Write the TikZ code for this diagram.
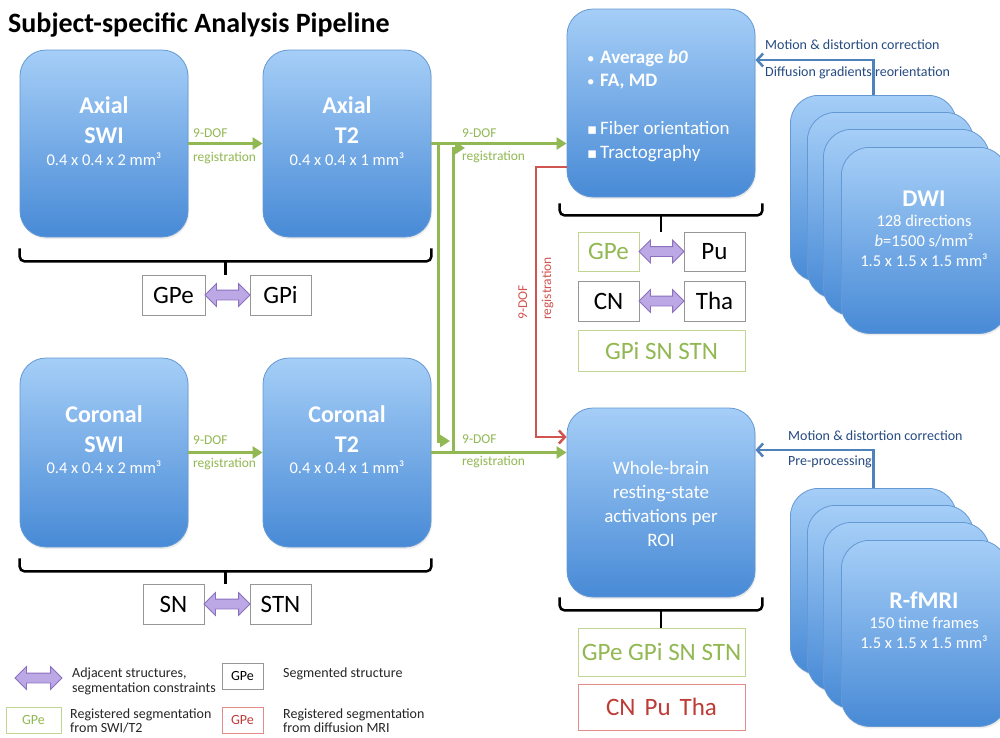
\documentclass[tikz,border=0pt]{standalone}
\usepackage{fontspec}
\setmainfont{Carlito}
\newfontfamily\dejavu{DejaVu Sans}
\usetikzlibrary{arrows.meta,shapes.arrows,calc,shadows}

\definecolor{gr}{RGB}{146,184,83}
\definecolor{grbox}{RGB}{192,213,145}
\definecolor{rd}{RGB}{208,84,80}
\definecolor{rdtext}{RGB}{190,60,55}
\definecolor{rdbox}{RGB}{226,140,138}
\definecolor{bl}{RGB}{79,129,189}
\definecolor{bltext}{RGB}{38,75,130}
\definecolor{boxtop}{RGB}{165,206,247}
\definecolor{boxbot}{RGB}{72,138,214}
\definecolor{boxedge}{RGB}{100,153,212}
\definecolor{lav}{RGB}{188,168,228}
\definecolor{lavedge}{RGB}{140,112,192}
\definecolor{grayedge}{RGB}{150,150,150}

\begin{document}
\begin{tikzpicture}[x=1pt,y=-1pt,
  bluebox/.style={draw=boxedge, line width=0.8pt, rounded corners=26pt,
    top color=boxtop, bottom color=boxbot,
    drop shadow={shadow xshift=1pt, shadow yshift=-2pt, opacity=0.15},
    minimum width=#1, minimum height=188pt, inner sep=0pt},
  stackbox/.style={bluebox=166pt, minimum height=186pt, anchor=north west, rounded corners=28pt},
  btxt/.style={text=white, anchor=base, inner sep=0pt},
  bigb/.style={font=\bfseries\fontsize{24}{28}\selectfont},
  dims/.style={font=\fontsize{16.5}{19}\selectfont},
  wtxt/.style={font=\fontsize{19}{22}\selectfont},
  sbox/.style={draw=grayedge, line width=0.8pt, minimum width=#1, minimum height=40pt,
    inner sep=0pt, font=\fontsize{25}{29}\selectfont},
  gbox/.style={sbox=#1, draw=grbox, text=gr},
  rbox/.style={sbox=#1, draw=rdbox, text=rdtext},
  dblarrow/.style={double arrow, draw=lavedge, fill=lav, line width=0.8pt,
    inner xsep=0pt, inner ysep=4.5pt, text height=0pt, text depth=0pt, text width=0pt,
    double arrow head extend=6.5pt, minimum height=#1},
  gline/.style={draw=gr, line width=3pt},
  garrow/.style={gline, -{Triangle[length=10pt,width=12pt]}},
  rarrow/.style={draw=rd, line width=2.5pt, -{Straight Barb[length=6pt,width=13pt]}},
  barrow/.style={draw=bl, line width=2.5pt, -{Straight Barb[length=6pt,width=13pt]}},
  glab/.style={text=gr, font=\fontsize{13.5}{15}\selectfont, anchor=base west, inner sep=0pt},
  blab/.style={text=bltext, font=\fontsize{14}{16}\selectfont, anchor=base west, inner sep=0pt},
  legtxt/.style={text=black!85, font=\fontsize{14}{16}\selectfont, anchor=base west, inner sep=0pt},
  brace/.style={draw=black, line width=2.5pt, rounded corners=5pt},
]
\useasboundingbox (0,0) rectangle (1000,737);
\fill[white] (0,0) rectangle (1000,737);
\clip (0,0) rectangle (1000,737);

% title
\node[anchor=base west, inner sep=0pt, font=\bfseries\fontsize{28}{32}\selectfont] (title) at (8,32) {Subject-specific Analysis Pipeline};

% main boxes
\node[bluebox=168pt, minimum height=187pt] (swia) at (104,143.5) {};
\node[bluebox=168pt, minimum height=187pt] (t2a) at (347,143.5) {};
\node[bluebox=168pt, minimum height=189pt] (swic) at (104,452.5) {};
\node[bluebox=168pt, minimum height=189pt] (t2c) at (347,452.5) {};
\node[bluebox=188pt] (b0) at (661,103) {};
\node[bluebox=188pt, minimum height=189pt] (wb) at (661,502.5) {};

% stacks
\node[stackbox] (dwi1) at (790,95) {};
\node[stackbox] (dwi2) at (807,112) {};
\node[stackbox] (dwi3) at (823,129) {};
\node[stackbox] (dwi4) at (841,147) {};
\node[stackbox] (rf1) at (790,488) {};
\node[stackbox] (rf2) at (807,505) {};
\node[stackbox] (rf3) at (823,522) {};
\node[stackbox] (rf4) at (841,540) {};

% box texts
\node[btxt, bigb] (swia1) at (104,113) {Axial};
\node[btxt, bigb] (swia2) at (104,143) {SWI};
\node[btxt, dims] (swia3) at (104,165) {0.4 x 0.4 x 2 mm³};
\node[btxt, bigb] (t2a1) at (347,113) {Axial};
\node[btxt, bigb] (t2a2) at (347,143) {T2};
\node[btxt, dims] (t2a3) at (347,165) {0.4 x 0.4 x 1 mm³};
\node[btxt, bigb] (swic1) at (104,422) {Coronal};
\node[btxt, bigb] (swic2) at (104,452) {SWI};
\node[btxt, dims] (swic3) at (104,473) {0.4 x 0.4 x 2 mm³};
\node[btxt, bigb] (t2c1) at (347,422) {Coronal};
\node[btxt, bigb] (t2c2) at (347,452) {T2};
\node[btxt, dims] (t2c3) at (347,473) {0.4 x 0.4 x 1 mm³};

\node[btxt, anchor=base west, font=\bfseries\fontsize{19}{22}\selectfont] (b01) at (587,63) {\makebox[13pt][l]{\mdseries\fontsize{15}{16}\selectfont •}Average \textit{b0}};
\node[btxt, anchor=base west, font=\bfseries\fontsize{19}{22}\selectfont] (b02) at (587,86) {\makebox[13pt][l]{\mdseries\fontsize{15}{16}\selectfont •}FA, MD};
\node[btxt, anchor=base west, wtxt] (b03) at (587,134) {\makebox[13pt][l]{\dejavu\fontsize{15}{16}\selectfont ▪}Fiber orientation};
\node[btxt, anchor=base west, wtxt] (b04) at (587,158) {\makebox[13pt][l]{\dejavu\fontsize{15}{16}\selectfont ▪}Tractography};

\node[btxt, wtxt] (wb1) at (661,474) {Whole-brain};
\node[btxt, wtxt] (wb2) at (661,498) {resting-state};
\node[btxt, wtxt] (wb3) at (661,522) {activations per};
\node[btxt, wtxt] (wb4) at (661,546) {ROI};

\node[btxt, bigb] (dwit1) at (924,206) {DWI};
\node[btxt, dims] (dwit2) at (924,226) {128 directions};
\node[btxt, dims] (dwit3) at (924,246) {\textit{b}=1500 s/mm²};
\node[btxt, dims] (dwit4) at (924,266) {1.5 x 1.5 x 1.5 mm³};
\node[btxt, bigb] (rft1) at (924,608) {R-fMRI};
\node[btxt, dims] (rft2) at (924,628) {150 time frames};
\node[btxt, dims] (rft3) at (924,648) {1.5 x 1.5 x 1.5 mm³};

% structure boxes
\node[sbox=63pt] (gpe1) at (173.5,295) {GPe};
\node[sbox=61pt] (gpi1) at (280.5,295) {GPi};
\node[sbox=61pt] (sn1) at (173.5,604) {SN};
\node[sbox=61pt] (stn1) at (280.5,604) {STN};
\node[gbox=61pt, minimum height=39pt] (gpe2) at (608.5,251.5) {GPe};
\node[sbox=61pt, minimum height=39pt] (pu2) at (714.5,251.5) {Pu};
\node[sbox=61pt] (cn2) at (608.5,301) {CN};
\node[sbox=61pt] (tha2) at (714.5,301) {Tha};
\node[gbox=167pt, minimum height=41pt] (grp2) at (661.5,350.5) {GPi SN STN};
\node[gbox=167pt, minimum height=48pt] (grp3) at (661.5,652) {GPe GPi SN STN};
\node[rbox=167pt, minimum height=46pt] (red3) at (661.5,707) {CN\hspace{9pt}Pu\hspace{9pt}Tha};

% adjacency arrows
\node[dblarrow=45pt] (adj1) at ($(gpe1.east)!0.5!(gpi1.west)$) {};
\node[dblarrow=46pt] (adj2) at ($(sn1.east)!0.5!(stn1.west)$) {};
\node[dblarrow=45pt] (adj3) at ($(gpe2.east)!0.5!(pu2.west)$) {};
\node[dblarrow=45pt] (adj4) at ($(cn2.east)!0.5!(tha2.west)$) {};

% braces
\coordinate (bA1) at ($(swia.south west)+(0,11)$);
\coordinate (bA2) at ($(t2a.south east)+(0,11)$);
\coordinate (bAm) at ($(bA1)!0.5!(bA2)+(0,13)$);
\draw[brace] (bA1) |- (bAm) -| (bA2);
\draw[brace] (bAm) -- (bAm |- gpe1.north);
\coordinate (bC1) at ($(swic.south west)+(0,11)$);
\coordinate (bC2) at ($(t2c.south east)+(0,11)$);
\coordinate (bCm) at ($(bC1)!0.5!(bC2)+(0,13)$);
\draw[brace] (bC1) |- (bCm) -| (bC2);
\draw[brace] (bCm) -- (bCm |- sn1.north);
\coordinate (bB1) at ($(b0.south west)+(-7,6)$);
\coordinate (bB2) at ($(b0.south east)+(7,6)$);
\coordinate (bBm) at ($(bB1)!0.5!(bB2)+(0,12)$);
\draw[brace] (bB1) |- (bBm) -| (bB2);
\draw[brace] (bBm) -- (bBm |- gpe2.north);
\coordinate (bW1) at ($(wb.south west)+(-7,0)$);
\coordinate (bW2) at ($(wb.south east)+(7,0)$);
\coordinate (bWm) at ($(bW1)!0.5!(bW2)+(0,13)$);
\draw[brace] (bW1) |- (bWm) -| (bW2);
\draw[brace] (bWm) -- (bWm |- grp3.north);

% green registration connectors
\draw[garrow] (swia.east) -- (t2a.west);
\draw[garrow] (swic.east) -- (t2c.west);
\draw[garrow] (t2a.east) -- (t2a.east -| b0.west);
\draw[garrow] (t2c.east) -- (t2c.east -| wb.west);
\coordinate (ja) at (438,0);
\coordinate (jaEnd) at (450,441);
\draw[garrow] (ja |- t2a.east) |- (jaEnd);
\coordinate (jc) at (453,0);
\coordinate (jcEnd) at (465,148);
\draw[garrow] (jc |- t2c.east) |- (jcEnd);

% red connector
\coordinate (ry) at (0,167);
\coordinate (rc) at (536,437);
\draw[rarrow] (b0.west |- ry) -| (rc) -- (rc -| wb.west);

% blue connectors
\coordinate (bd) at (0,60);
\draw[barrow] (dwi1.north) -- (dwi1.north |- bd) -- (bd -| b0.east);
\coordinate (br) at (0,450);
\draw[barrow] (rf1.north) -- (rf1.north |- br) -- (br -| wb.east);

% connector labels
\node[glab] (l1) at (193,137) {9-DOF};
\node[glab] (l2) at (193,161) {registration};
\node[glab] (l3) at (193,444) {9-DOF};
\node[glab] (l4) at (193,467) {registration};
\node[glab] (l5) at (462,137) {9-DOF};
\node[glab] (l6) at (462,160) {registration};
\node[glab] (l7) at (462,443) {9-DOF};
\node[glab] (l8) at (462,465) {registration};
\node[glab, text=rd, rotate=90] (l9) at (527,320) {9-DOF};
\node[glab, text=rd, rotate=90] (l10) at (551,320) {registration};
\node[blab] (l11) at (765,49.5) {Motion \& distortion correction};
\node[blab] (l12) at (765,76) {Diffusion gradients reorientation};
\node[blab] (l13) at (788,440) {Motion \& distortion correction};
\node[blab] (l14) at (788,465) {Pre-processing};

% legend
\node[dblarrow=47pt] (lga) at (38.5,678) {};
\node[legtxt] (lt1) at (72,677) {Adjacent structures,};
\node[legtxt] (lt2) at (72,692) {segmentation constraints};
\node[sbox=41pt, minimum height=26pt, font=\fontsize{14}{16}\selectfont] (lgb) at (242.5,676) {GPe};
\node[legtxt] (lt3) at (283,677) {Segmented structure};
\node[gbox=55pt, minimum height=26pt, font=\fontsize{14}{16}\selectfont] (lgg) at (33.5,720) {GPe};
\node[legtxt] (lt4) at (70,718) {Registered segmentation};
\node[legtxt] (lt5) at (70,732) {from SWI/T2};
\node[rbox=41pt, minimum height=26pt, font=\fontsize{14}{16}\selectfont] (lgr) at (242.5,720) {GPe};
\node[legtxt] (lt6) at (283,718) {Registered segmentation};
\node[legtxt] (lt7) at (283,732) {from diffusion MRI};
\end{tikzpicture}
\end{document}
